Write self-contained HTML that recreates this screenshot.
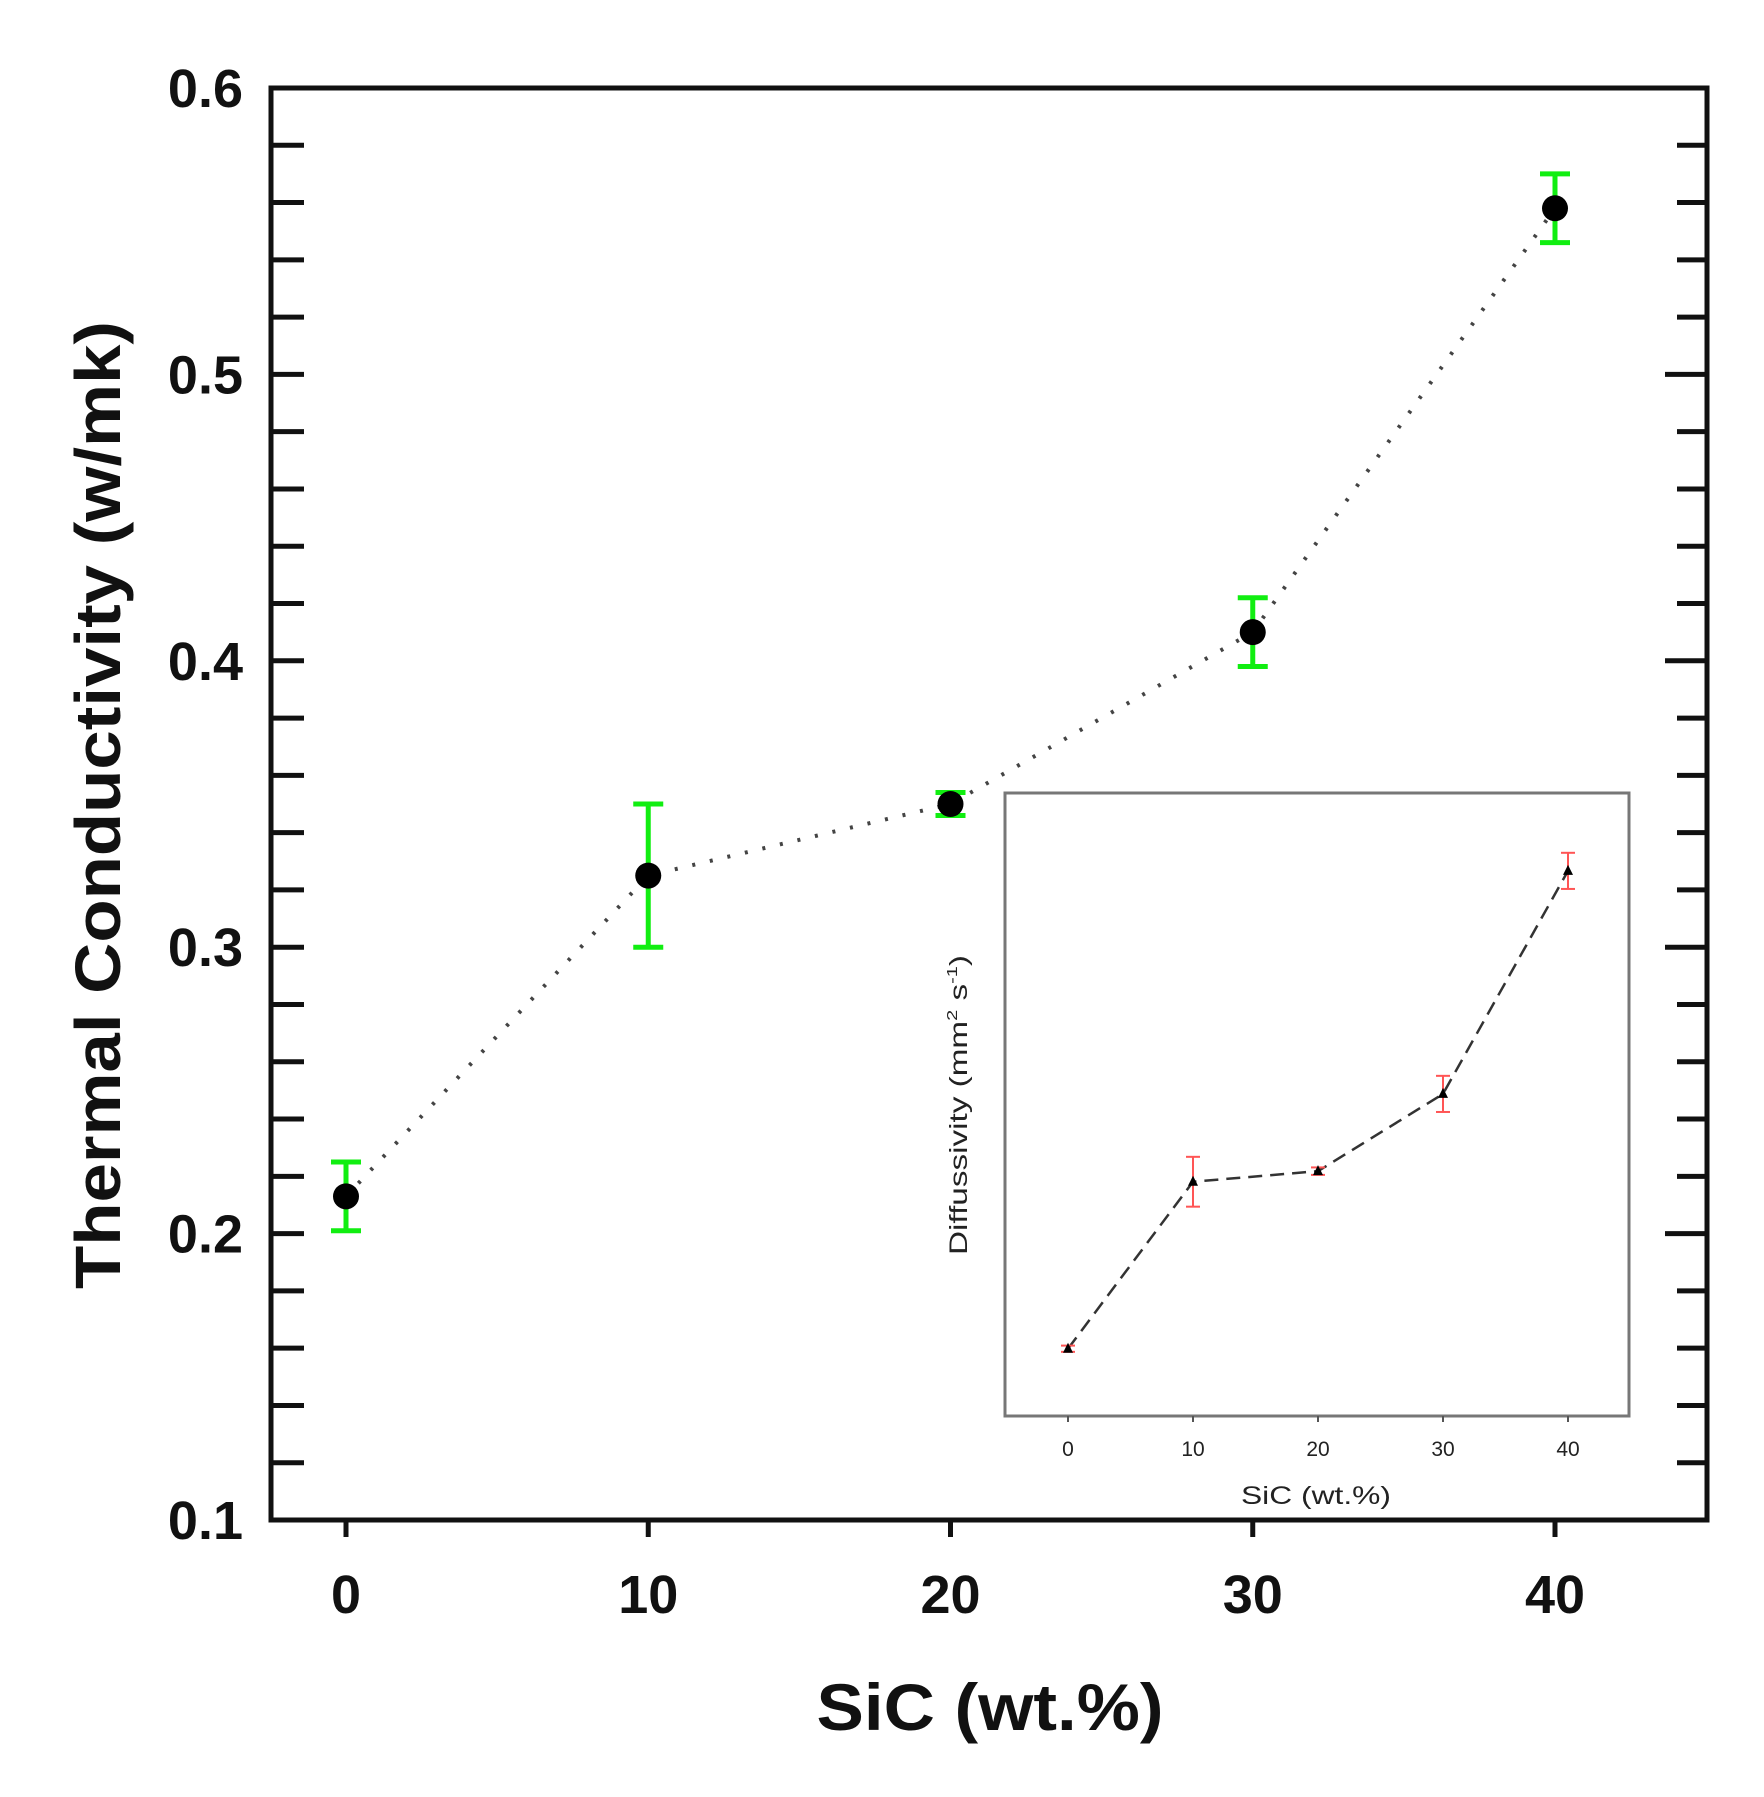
<!DOCTYPE html>
<html><head><meta charset="utf-8"><style>
html,body{margin:0;padding:0;background:#fff;}
svg{display:block;font-family:"Liberation Sans",Arial,sans-serif;}
</style></head><body>
<svg id="chart" width="1764" height="1797" viewBox="0 0 1764 1797" xmlns="http://www.w3.org/2000/svg">
<rect width="1764" height="1797" fill="#fff"/>
<g id="main"></g>
<g id="inset"></g>
</svg>
<script>
const categories = [0, 10, 20, 30, 40];
const conductivity = [0.213, 0.325, 0.350, 0.410, 0.558];
const conductivityErr = [0.012, 0.025, 0.004, 0.012, 0.012];
const yTickLabels = ["0.1", "0.2", "0.3", "0.4", "0.5", "0.6"];
const xTickLabels = ["0", "10", "20", "30", "40"];
const diffusivity = [10.8, 37.6, 39.3, 51.7, 87.5];
const diffusivityErr = [0.5, 4.0, 0.6, 2.9, 2.9];

const NS = "http://www.w3.org/2000/svg";
function mk(parent, tag, attrs, text) {
  const e = document.createElementNS(NS, tag);
  for (const k in attrs) e.setAttribute(k, attrs[k]);
  if (text !== undefined) e.textContent = text;
  parent.appendChild(e);
  return e;
}
const L = 271, R = 1707, T = 88, B = 1520;
const x = v => 346 + (v - 0) * (1555 - 346) / 40;
const y = v => B - (v - 0.1) * (B - T) / 0.5;
const main = document.getElementById('main');

for (let i = 0; i <= 25; i++) {
  const v = 0.1 + i * 0.02;
  const yy = y(v);
  const major = i % 5 === 0;
  const t1 = mk(main, 'line', {x1: L, x2: L + 33, y1: yy, y2: yy, stroke: '#111', 'stroke-width': 5});
  
  
  const t2 = mk(main, 'line', {x1: R - (major ? 42 : 30), x2: R, y1: yy, y2: yy, stroke: '#111', 'stroke-width': 5});
  
  
}
yTickLabels.forEach((lab, i) => {
  const v = 0.1 + i * 0.1;
  const t = mk(main, 'text', {x: 243, y: y(v) + 19, 'text-anchor': 'end', 'font-size': 54, 'font-weight': 'bold', fill: '#111'}, lab);
  
  
});
categories.forEach((c, i) => {
  const tk = mk(main, 'line', {x1: x(c), x2: x(c), y1: B, y2: B + 17, stroke: '#111', 'stroke-width': 5});
  
  
  const t = mk(main, 'text', {x: x(c), y: 1613, 'text-anchor': 'middle', 'font-size': 54, 'font-weight': 'bold', fill: '#111'}, xTickLabels[i]);
  
  
});
const frame = mk(main, 'rect', {x: L, y: T, width: R - L, height: B - T, fill: 'none', stroke: '#111', 'stroke-width': 5});



const xt = mk(main, 'text', {x: 990, y: 1730, 'text-anchor': 'middle', 'font-size': 66, 'font-weight': 'bold', fill: '#111', textLength: 347, lengthAdjust: 'spacingAndGlyphs'}, 'SiC (wt.%)');


const yt = mk(main, 'text', {x: 0, y: 0, 'text-anchor': 'middle', 'font-size': 64, 'font-weight': 'bold', fill: '#111', textLength: 968, lengthAdjust: 'spacingAndGlyphs', transform: 'translate(120,805) rotate(-90)'}, 'Thermal Conductivity (w/mk)');



const pts = categories.map((c, i) => x(c) + ',' + y(conductivity[i])).join(' ');
const line = mk(main, 'polyline', {points: pts, fill: 'none', stroke: '#444', 'stroke-width': 4, 'stroke-dasharray': '3 15'});


categories.forEach((c, i) => {
  const cx = x(c), y1 = y(conductivity[i] + conductivityErr[i]), y2 = y(conductivity[i] - conductivityErr[i]);
  const g = mk(main, 'g', {});
  
  
  mk(g, 'line', {x1: cx, x2: cx, y1: y1, y2: y2, stroke: '#11ee11', 'stroke-width': 5});
  mk(g, 'line', {x1: cx - 15, x2: cx + 15, y1: y1, y2: y1, stroke: '#11ee11', 'stroke-width': 5});
  mk(g, 'line', {x1: cx - 15, x2: cx + 15, y1: y2, y2: y2, stroke: '#11ee11', 'stroke-width': 5});
  const p = mk(main, 'circle', {cx: cx, cy: y(conductivity[i]), r: 13, fill: '#000'});
  
  
});

const inset = document.getElementById('inset');
const iL = 1005, iR = 1629, iT = 793, iB = 1416;
const ix = v => 1068 + v * (1568 - 1068) / 40;
const iy = v => iB - v * (iB - iT) / 100;
const ibg = mk(inset, 'rect', {x: iL, y: iT, width: iR - iL, height: iB - iT, fill: '#fff', stroke: '#777', 'stroke-width': 3});


categories.forEach((c, i) => {
  const tk = mk(inset, 'line', {x1: ix(c), x2: ix(c), y1: iB, y2: iB + 6, stroke: '#555', 'stroke-width': 2});
  
  
  const t = mk(inset, 'text', {x: ix(c), y: 1456, 'text-anchor': 'middle', 'font-size': 21, fill: '#222'}, xTickLabels[i]);
  
  
});
const ixt = mk(inset, 'text', {x: 1316, y: 1504, 'text-anchor': 'middle', 'font-size': 25, fill: '#222', textLength: 150, lengthAdjust: 'spacingAndGlyphs'}, 'SiC (wt.%)');


const iyt = mk(inset, 'text', {x: 0, y: 0, 'text-anchor': 'middle', 'font-size': 25, fill: '#222', textLength: 300, lengthAdjust: 'spacingAndGlyphs', transform: 'translate(967,1105) rotate(-90)'});


iyt.innerHTML = 'Diffussivity (mm<tspan dy="-10" font-size="15">2</tspan><tspan dy="10"> s</tspan><tspan dy="-10" font-size="15">-1</tspan><tspan dy="10">)</tspan>';
const ipts = categories.map((c, i) => ix(c) + ',' + iy(diffusivity[i])).join(' ');
const il = mk(inset, 'polyline', {points: ipts, fill: 'none', stroke: '#333', 'stroke-width': 2.5, 'stroke-dasharray': '14 8'});


categories.forEach((c, i) => {
  const cx = ix(c), y1 = iy(diffusivity[i] + diffusivityErr[i]), y2 = iy(diffusivity[i] - diffusivityErr[i]);
  const g = mk(inset, 'g', {});
  
  
  mk(g, 'line', {x1: cx, x2: cx, y1: y1, y2: y2, stroke: '#f55', 'stroke-width': 2});
  mk(g, 'line', {x1: cx - 7, x2: cx + 7, y1: y1, y2: y1, stroke: '#f55', 'stroke-width': 2});
  mk(g, 'line', {x1: cx - 7, x2: cx + 7, y1: y2, y2: y2, stroke: '#f55', 'stroke-width': 2});
  const cy = iy(diffusivity[i]);
  const m = mk(inset, 'polygon', {points: `${cx},${cy - 6} ${cx - 5},${cy + 4} ${cx + 5},${cy + 4}`, fill: '#000'});
  
  
});
</script>
</body></html>
